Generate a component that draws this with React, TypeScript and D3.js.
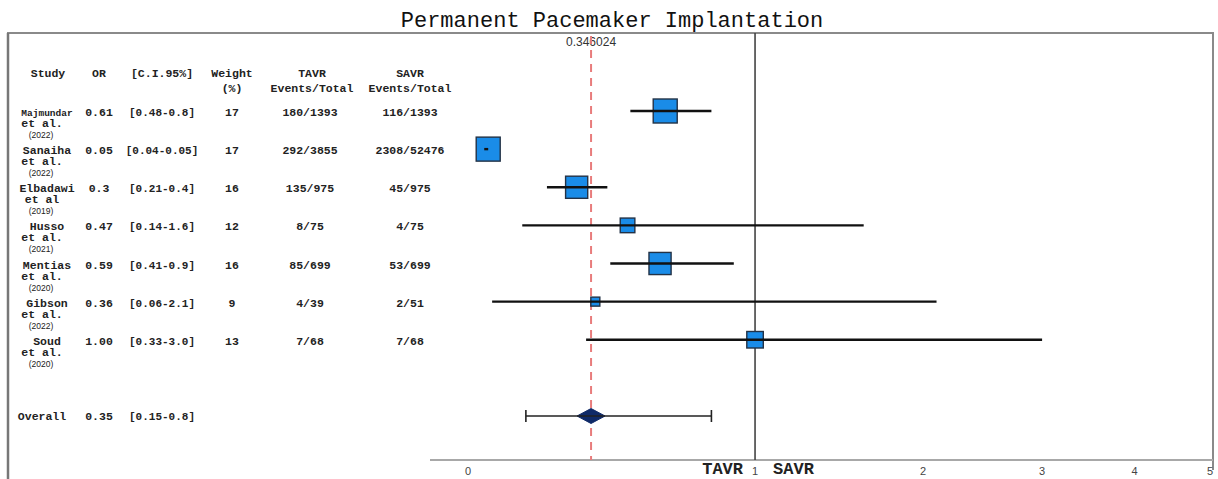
import React from "react";
import * as d3 from "d3";

// Study-level data for the forest plot
const studies = ["Majmundar", "Sanaiha", "Elbadawi", "Husso", "Mentias", "Gibson", "Soud"];
const etAl = ["et al.", "et al.", "et al", "et al.", "et al.", "et al.", "et al."];
const years = ["(2022)", "(2022)", "(2019)", "(2021)", "(2020)", "(2022)", "(2020)"];
const orValues = [0.61, 0.05, 0.3, 0.47, 0.59, 0.36, 1.0];
const orLabels = ["0.61", "0.05", "0.3", "0.47", "0.59", "0.36", "1.00"];
const ciLow = [0.48, 0.04, 0.21, 0.14, 0.41, 0.06, 0.33];
const ciHigh = [0.8, 0.05, 0.4, 1.6, 0.9, 2.1, 3.0];
const ciLabels = ["[0.48-0.8]", "[0.04-0.05]", "[0.21-0.4]", "[0.14-1.6]", "[0.41-0.9]", "[0.06-2.1]", "[0.33-3.0]"];
const weights = [17, 17, 16, 12, 16, 9, 13];
const tavrEvents = ["180/1393", "292/3855", "135/975", "8/75", "85/699", "4/39", "7/68"];
const savrEvents = ["116/1393", "2308/52476", "45/975", "4/75", "53/699", "2/51", "7/68"];

// Pooled estimate
const overallLabel = "Overall";
const overallORLabel = "0.35";
const overallLow = 0.15;
const overallHigh = 0.8;
const overallCILabel = "[0.15-0.8]";
const pooledExact = 0.346024;

// Axis
const axisTicks = [0, 1, 2, 3, 4, 5];

const W = 1218;
const H = 479;
const MONO = "'Liberation Mono', 'Courier New', monospace";
const SANS = "'Liberation Sans', Arial, sans-serif";

export default function App() {
  // x: log(1 + OR) spacing
  const x = d3.scaleSymlog().constant(1).domain([0, 5]).range([468, 1210]);
  const y = d3.scaleLinear().domain([0, 8]).range([111, 416]);
  const boxSize = d3.scaleLinear().domain([9, 17]).range([9, 24]);

  const colStudy = 45;
  const colOR = 99;
  const colCI = 162;
  const colW = 232;
  const colT = 310;
  const colS = 410;

  const axisY = 460;
  const top = 33;
  const right = 1213;
  const left = 8;

  const rowText = { fontFamily: MONO, fontSize: 11.5, fontWeight: 700, fill: "#222", textAnchor: "middle" as const };
  const headText = { fontFamily: MONO, fontSize: 11.5, fontWeight: 700, fill: "#222", textAnchor: "middle" as const };

  const yo = y(8);
  const xo = x(pooledExact);
  const diamond = d3.line()([
    [xo - 14, yo],
    [xo, yo - 7.5],
    [xo + 14, yo],
    [xo, yo + 7.5],
    [xo - 14, yo],
  ]) as string;

  return (
    <svg
      width={W}
      height={H}
      style={{ position: "absolute", left: 0, top: 0, background: "#fff" }}
    >
      <rect x={0} y={0} width={W} height={H} fill="#fff" />

      {/* title */}
      <text x={612} y={27} fontFamily={MONO} fontSize={22} fill="#111" textAnchor="middle">
        Permanent Pacemaker Implantation
      </text>

      {/* frame */}
      <path d={`M${left},${H} V${top} H${right} V470`} fill="none" stroke="#8a8a8a" strokeWidth={2} />
      <line x1={left} x2={left} y1={top} y2={H} stroke="#777" strokeWidth={2.5} />

      {/* axis baseline */}
      <line x1={430} x2={right} y1={axisY} y2={axisY} stroke="#a8a8a8" strokeWidth={2} />

      {/* header */}
      <g {...headText}>
        <text x={colStudy + 3} y={77}>Study</text>
        <text x={colOR} y={77}>OR</text>
        <text x={colCI} y={77}>[C.I.95%]</text>
        <text x={colW} y={77}>Weight</text>
        <text x={colW} y={92}>(%)</text>
        <text x={colT + 2} y={77}>TAVR</text>
        <text x={colT + 2} y={92}>Events/Total</text>
        <text x={colS} y={77}>SAVR</text>
        <text x={colS} y={92}>Events/Total</text>
      </g>

      {/* study rows: table */}
      {studies.map((s, i) => {
        const yy = y(i);
        return (
          <g key={s} {...rowText}>
            <text x={colStudy + 2} y={yy + 5} fontSize={s.length > 8 ? 9.5 : 11.5}>
              {s}
            </text>
            <text x={colStudy - 3} y={yy + 16}>{etAl[i]}</text>
            <text x={colStudy - 4} y={yy + 27} fontFamily={SANS} fontSize={8.5} fontWeight={400}>
              {years[i]}
            </text>
            <text x={colOR} y={yy + 5}>{orLabels[i]}</text>
            <text x={colCI} y={yy + 5} fontSize={11}>{ciLabels[i]}</text>
            <text x={colW} y={yy + 5}>{weights[i]}</text>
            <text x={colT} y={yy + 5}>{tavrEvents[i]}</text>
            <text x={colS} y={yy + 5}>{savrEvents[i]}</text>
          </g>
        );
      })}

      {/* overall row: table */}
      <g {...rowText}>
        <text x={colStudy - 3} y={yo + 4}>{overallLabel}</text>
        <text x={colOR} y={yo + 4}>{overallORLabel}</text>
        <text x={colCI} y={yo + 4} fontSize={11}>{overallCILabel}</text>
      </g>

      {/* reference line at OR = 1 */}
      <line x1={x(1)} x2={x(1)} y1={top} y2={axisY} stroke="#444" strokeWidth={1.6} />

      {/* pooled value label and dashed line */}
      <text x={xo} y={46} fontFamily={SANS} fontSize={12} fill="#333" textAnchor="middle">
        {pooledExact.toFixed(6)}
      </text>
      <line
        x1={xo}
        x2={xo}
        y1={top + 3}
        y2={axisY}
        stroke="#e87c7c"
        strokeWidth={2}
        strokeDasharray="8 6"
      />

      {/* study squares and CI lines */}
      {studies.map((s, i) => {
        const yy = y(i);
        const sz = boxSize(weights[i]);
        return (
          <g key={s + "-mark"}>
            <rect
              x={x(orValues[i]) - sz / 2}
              y={yy - sz / 2}
              width={sz}
              height={sz}
              fill="#1a8ce8"
              stroke="#233246"
              strokeWidth={1.4}
            />
            <line x1={x(ciLow[i])} x2={x(ciHigh[i])} y1={yy} y2={yy} stroke="#111" strokeWidth={2.4} />
          </g>
        );
      })}

      {/* overall diamond with whiskers */}
      <path d={diamond} fill="#0f2a68" stroke="#0f2a68" strokeWidth={1} />
      <g stroke="#222" strokeWidth={1.6}>
        <line x1={x(overallLow)} x2={x(overallHigh)} y1={yo} y2={yo} />
        <line x1={x(overallLow)} x2={x(overallLow)} y1={yo - 6} y2={yo + 6} />
        <line x1={x(overallHigh)} x2={x(overallHigh)} y1={yo - 6} y2={yo + 6} />
      </g>

      {/* axis tick labels */}
      {axisTicks.map((t) => (
        <text
          key={t}
          x={x(t)}
          y={475}
          fontFamily={SANS}
          fontSize={11}
          fill="#444"
          textAnchor="middle"
        >
          {t}
        </text>
      ))}
      <text x={x(1) - 12} y={474} fontFamily={MONO} fontSize={17} fontWeight={700} fill="#222" textAnchor="end">
        TAVR
      </text>
      <text x={x(1) + 18} y={474} fontFamily={MONO} fontSize={17} fontWeight={700} fill="#222" textAnchor="start">
        SAVR
      </text>
    </svg>
  );
}
